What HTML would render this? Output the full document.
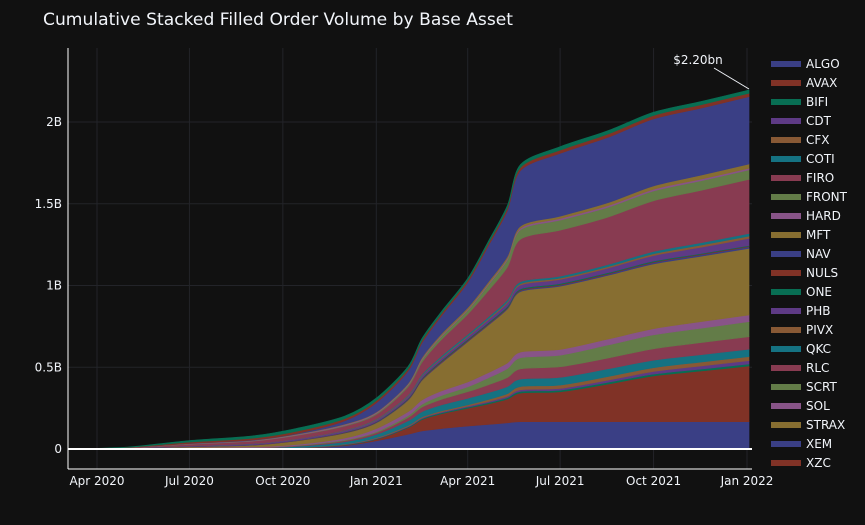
<!DOCTYPE html>
<html><head><meta charset="utf-8">
<style>
html,body{margin:0;padding:0;background:#111111;}
svg{display:block;font-family:"DejaVu Sans","Liberation Sans",Arial,sans-serif;}
</style></head>
<body>
<svg id="chart" width="865" height="525" viewBox="0 0 865 525">
<rect width="865" height="525" fill="#111111"/>
<text x="43" y="25" fill="#f2f5fa" font-size="17" textLength="470" lengthAdjust="spacingAndGlyphs">Cumulative Stacked Filled Order Volume by Base Asset</text>
<g id="grid"></g>
<g id="areas"></g>
<g id="axes"></g>
<g id="legend"></g>
<g>
<line x1="714" y1="68" x2="749" y2="89" stroke="#f2f5fa" stroke-width="1"/>
<text x="698" y="64" fill="#f2f5fa" font-size="12" text-anchor="middle">$2.20bn</text>
</g>
</svg>
<script>
const dates = ['2020-03-03','2020-05-01','2020-07-01','2020-09-01','2020-10-15','2020-12-01','2021-01-01','2021-02-01','2021-02-15','2021-03-06','2021-04-01','2021-04-21','2021-05-10','2021-05-23','2021-07-01','2021-08-17','2021-10-01','2021-11-17','2022-01-03'];
const seriesNames = ['ALGO','AVAX','BIFI','CDT','CFX','COTI','FIRO','FRONT','HARD','MFT','NAV','NULS','ONE','PHB','PIVX','QKC','RLC','SCRT','SOL','STRAX','XEM','XZC','ZIL'];
const ALGO = [0,0,0,0,.003,.02,.05,.09,.11,.125,.14,.15,.16,.167,.167,.167,.167,.167,.167];
const AVAX = [0,0,0,0,.002,.004,.009,.04,.07,.09,.109,.125,.145,.175,.183,.23,.28,.31,.341];
const BIFI = [0,0,0,0,.001,.002,.003,.004,.005,.006,.007,.008,.009,.01,.01,.011,.011,.012,.012];
const CDT = [0,0,.001,.001,.001,.002,.003,.004,.005,.005,.006,.007,.008,.01,.01,.013,.016,.019,.021];
const CFX = [0,0,0,0,.001,.002,.004,.005,.006,.007,.008,.012,.016,.02,.021,.022,.023,.024,.024];
const COTI = [0,.001,.002,.004,.008,.014,.02,.028,.032,.036,.04,.042,.044,.046,.047,.047,.046,.045,.045];
const FIRO = [0,.001,.002,.003,.004,.007,.01,.02,.028,.034,.04,.048,.055,.062,.065,.066,.07,.074,.077];
const FRONT = [0,0,.001,.001,.002,.004,.006,.012,.018,.024,.03,.042,.055,.068,.071,.08,.085,.088,.092];
const HARD = [0,.001,.003,.004,.006,.012,.02,.024,.026,.028,.03,.032,.034,.035,.035,.036,.038,.04,.041];
const MFT = [0,.001,.004,.01,.022,.03,.035,.07,.12,.17,.246,.29,.33,.37,.387,.39,.396,.40,.407];
const NAV = [0,0,.001,.001,.001,.002,.003,.004,.004,.005,.005,.005,.006,.006,.006,.007,.008,.009,.010];
const NULS = [0,0,.001,.001,.001,.002,.002,.003,.004,.005,.005,.005,.004,.004,.004,.004,.004,.004,.004];
const ONE = [0,0,0,0,.001,.002,.002,.003,.004,.005,.005,.005,.006,.006,.006,.005,.005,.004,.004];
const PHB = [0,.001,.004,.006,.008,.009,.01,.012,.013,.014,.015,.018,.021,.024,.025,.028,.034,.038,.043];
const PIVX = [0,0,.001,.001,.001,.002,.003,.004,.004,.005,.005,.006,.007,.008,.008,.009,.011,.013,.014];
const QKC = [0,0,0,.001,.001,.002,.003,.005,.007,.009,.01,.011,.012,.012,.012,.013,.014,.015,.016];
const RLC = [0,.002,.009,.015,.02,.024,.028,.05,.075,.1,.123,.16,.2,.26,.281,.29,.31,.32,.331];
const SCRT = [0,0,.001,.001,.002,.004,.006,.01,.015,.02,.024,.035,.045,.058,.062,.06,.06,.059,.058];
const SOL = [0,.001,.002,.003,.004,.005,.006,.006,.006,.006,.006,.007,.008,.009,.01,.01,.01,.01,.01];
const STRAX = [0,0,.001,.001,.002,.003,.003,.005,.007,.009,.01,.011,.012,.013,.014,.018,.021,.024,.026];
const XEM = [0,0,.001,.002,.004,.02,.056,.075,.09,.11,.154,.22,.28,.34,.384,.40,.41,.41,.412];
const XZC = [0,.002,.008,.011,.014,.014,.014,.014,.014,.014,.014,.015,.017,.019,.02,.02,.021,.021,.021];
const ZIL = [0,.002,.01,.014,.018,.016,.016,.015,.014,.013,.012,.013,.015,.018,.021,.021,.02,.02,.02];
const yTicks = [0,0.5,1,1.5,2];
const yTickLabels = ['0','0.5B','1B','1.5B','2B'];
const xTicks = ['2020-04-01','2020-07-01','2020-10-01','2021-01-01','2021-04-01','2021-07-01','2021-10-01','2022-01-01'];
const xTickLabels = ['Apr 2020','Jul 2020','Oct 2020','Jan 2021','Apr 2021','Jul 2021','Oct 2021','Jan 2022'];

const seriesValues = [ALGO,AVAX,BIFI,CDT,CFX,COTI,FIRO,FRONT,HARD,MFT,NAV,NULS,ONE,PHB,PIVX,QKC,RLC,SCRT,SOL,STRAX,XEM,XZC,ZIL];
const palette = ['#3a3f85','#803226','#086e53','#5e3a85','#885935','#157282','#883b51','#637c48','#885488','#876e31'];
const NS='http://www.w3.org/2000/svg';
const PL=68, PR=752, PT=48, PB=469;
const t0=Date.parse('2020-04-01'), t1=Date.parse('2022-01-01');
function xScale(d){return 97+(Date.parse(d)-t0)/(t1-t0)*(747-97);}
function yScale(v){return 449 - v*163.5;}
function mk(tag,attrs,parent){const e=document.createElementNS(NS,tag);for(const k in attrs)e.setAttribute(k,attrs[k]);parent.appendChild(e);return e;}

const grid=document.getElementById('grid');
yTicks.forEach((v,i)=>{
  if(v!==0){const l=mk('line',{x1:PL,x2:PR,y1:yScale(v),y2:yScale(v),stroke:'#232429','stroke-width':1},grid);
  
  }
});
xTicks.forEach((d,i)=>{
  const l=mk('line',{x1:xScale(d),x2:xScale(d),y1:PT,y2:PB,stroke:'#232429','stroke-width':1},grid);
  
  
});

function pathThrough(pts){
  let d='';
  for(let i=0;i<pts.length;i++){
    const [x,y]=pts[i];
    if(i===0){d+='M'+x+','+y;continue;}
    const p0=pts[Math.max(0,i-2)],p1=pts[i-1],p2=pts[i],p3=pts[Math.min(pts.length-1,i+1)];
    const t=0.15;
    let c1x=p1[0]+(p2[0]-p0[0])*t,c1y=p1[1]+(p2[1]-p0[1])*t;
    let c2x=p2[0]-(p3[0]-p1[0])*t,c2y=p2[1]-(p3[1]-p1[1])*t;
    const lo=Math.min(p1[1],p2[1]),hi=Math.max(p1[1],p2[1]);
    c1y=Math.min(hi,Math.max(lo,c1y));c2y=Math.min(hi,Math.max(lo,c2y));
    d+='C'+c1x+','+c1y+' '+c2x+','+c2y+' '+x+','+y;
  }
  return d;
}
const areas=document.getElementById('areas');
let base=dates.map(()=>0);
seriesValues.forEach((vals,si)=>{
  const top=base.map((b,i)=>b+vals[i]);
  const upper=dates.map((d,i)=>[xScale(d),yScale(top[i])]);
  const lower=dates.map((d,i)=>[xScale(d),yScale(base[i])]).reverse();
  let dstr=pathThrough(upper)+'L'+lower[0][0]+','+lower[0][1]+pathThrough(lower).replace(/^M[^C]*/,'')+'Z';
  const col=palette[si%10];
  const p=mk('path',{d:dstr,fill:col,stroke:col,'stroke-width':0.6},areas);
  
  
  base=top;
});

const axes=document.getElementById('axes');
const za=mk('line',{x1:PL,x2:PR,y1:yScale(0),y2:yScale(0),stroke:'#ffffff','stroke-width':2},axes);


const xa=mk('line',{x1:PL,x2:PR,y1:PB,y2:PB,stroke:'#ffffff','stroke-width':1},axes);


const ya=mk('line',{x1:PL,x2:PL,y1:PT,y2:PB,stroke:'#ffffff','stroke-width':1},axes);


yTicks.forEach((v,i)=>{
  const t=mk('text',{x:PL-6,y:yScale(v)+4,fill:'#f2f5fa','font-size':12,'text-anchor':'end'},axes);
  t.textContent=yTickLabels[i];
  
  
});
xTicks.forEach((d,i)=>{
  const t=mk('text',{x:xScale(d),y:485,fill:'#f2f5fa','font-size':12,'text-anchor':'middle'},axes);
  t.textContent=xTickLabels[i];
  
  
});

const legend=document.getElementById('legend');
seriesNames.slice(0,22).forEach((n,i)=>{
  const y=64+i*19;
  const g=mk('g',{},legend);
  
  
  mk('rect',{x:771,y:y-3,width:30,height:6,fill:palette[i%10]},g);
  const t=mk('text',{x:806,y:y+4,fill:'#f2f5fa','font-size':12},g);
  t.textContent=n;
});
</script>
</body></html>
